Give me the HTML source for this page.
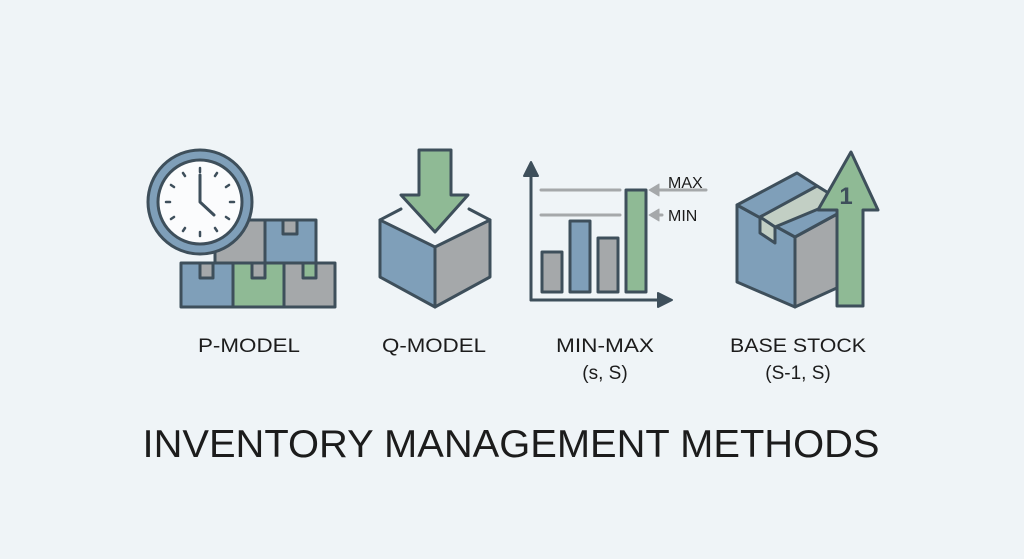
<!DOCTYPE html>
<html><head><meta charset="utf-8"><style>
html,body{margin:0;padding:0;background:#eff4f7;}
svg{display:block}
text{font-family:"Liberation Sans",sans-serif;fill:#1c1c1c}
</style></head><body>
<svg width="1024" height="559" viewBox="0 0 1024 559" xmlns="http://www.w3.org/2000/svg">
<rect width="1024" height="559" fill="#eff4f7"/>
<g stroke="#3e4f5b" stroke-width="3" stroke-linejoin="round" stroke-linecap="round">
<!-- P-model boxes -->
<rect x="215" y="220" width="50" height="43" fill="#a5a8aa"/>
<rect x="265" y="220" width="51" height="43" fill="#7f9fb9"/>
<rect x="283" y="220" width="14" height="14" fill="#a5a8aa"/>
<rect x="181" y="263" width="52" height="44" fill="#7f9fb9"/>
<rect x="233" y="263" width="51" height="44" fill="#8fba95"/>
<rect x="284" y="263" width="51" height="44" fill="#a5a8aa"/>
<rect x="200" y="263" width="13" height="15" fill="#a5a8aa"/>
<rect x="252" y="263" width="13" height="15" fill="#a5a8aa"/>
<rect x="303" y="263" width="13" height="15" fill="#8fba95"/>
<!-- clock -->
<circle cx="200" cy="202" r="52" fill="#7f9fb9"/>
<circle cx="200" cy="202" r="42" fill="#fbfcfd"/>
<g stroke-width="2.5">
<line x1="200" y1="168" x2="200" y2="172"/><line x1="200" y1="232" x2="200" y2="236"/>
<line x1="166" y1="202" x2="170" y2="202"/><line x1="230" y1="202" x2="234" y2="202"/>
<line x1="183" y1="173" x2="185" y2="176"/><line x1="217" y1="173" x2="215" y2="176"/>
<line x1="171" y1="185" x2="174" y2="187"/><line x1="229" y1="185" x2="226" y2="187"/>
<line x1="171" y1="219" x2="174" y2="217"/><line x1="229" y1="219" x2="226" y2="217"/>
<line x1="183" y1="231" x2="185" y2="228"/><line x1="217" y1="231" x2="215" y2="228"/>
</g>
<polyline points="200,175 200,202 214,215" fill="none"/>
<!-- Q-model -->
<polygon points="380,220 435,247 435,307 380,277" fill="#7f9fb9"/>
<polygon points="435,247 490,220 490,277 435,307" fill="#a5a8aa"/>
<line x1="380" y1="220" x2="401" y2="209"/>
<line x1="469" y1="209" x2="490" y2="220"/>
<polygon points="419,150 451,150 451,195 468,195 435,232 401,195 419,195" fill="#8fba95"/>
<!-- Min-max -->
<line x1="531" y1="170" x2="531" y2="300"/>
<line x1="531" y1="300" x2="664" y2="300"/>
<polygon points="524,176 538,176 531,162" fill="#3e4f5b" stroke-width="2"/>
<polygon points="658,293 658,307 672,300" fill="#3e4f5b" stroke-width="2"/>
<line x1="541" y1="190" x2="620" y2="190" stroke="#a5a8aa" stroke-width="3"/>
<line x1="541" y1="215" x2="620" y2="215" stroke="#a5a8aa" stroke-width="3"/>
<rect x="542" y="252" width="20" height="40" fill="#a5a8aa"/>
<rect x="570" y="221" width="20" height="71" fill="#7f9fb9"/>
<rect x="598" y="238" width="20" height="54" fill="#a5a8aa"/>
<rect x="626" y="190" width="20" height="102" fill="#8fba95"/>
<g stroke="#a5a8aa" fill="#a5a8aa">
<line x1="658" y1="190" x2="706" y2="190"/>
<polygon points="649,190 659,184 659,196" stroke-width="1"/>
<line x1="658" y1="215" x2="662" y2="215"/>
<polygon points="649,215 659,209 659,221" stroke-width="1"/>
</g>
<!-- Base stock -->
<polygon points="737,205 795,237 795,307 737,282" fill="#7f9fb9"/>
<polygon points="795,237 850,207 850,282 795,307" fill="#a5a8aa"/>
<polygon points="737,205 797,173 850,207 795,237" fill="#7f9fb9"/>
<polygon points="760,217 817,186 840,200 775,227" fill="#c2cfc4"/>
<polygon points="760,217 775,227 775,243 760,233" fill="#c2cfc4"/>
<polygon points="837,306 863,306 863,210 878,210 851,152 818,210 837,210" fill="#8fba95"/>
</g>
<text x="846" y="204" font-size="24" font-weight="bold" style="fill:#3e4f5b" text-anchor="middle">1</text>
<text x="668" y="188" font-size="16">MAX</text>
<text x="668" y="221" font-size="16">MIN</text>
<g font-size="19" text-anchor="middle">
<text x="249" y="352" textLength="102" lengthAdjust="spacingAndGlyphs">P-MODEL</text>
<text x="434" y="352" textLength="104" lengthAdjust="spacingAndGlyphs">Q-MODEL</text>
<text x="605" y="352" textLength="98" lengthAdjust="spacingAndGlyphs">MIN-MAX</text>
<text x="605" y="379">(s, S)</text>
<text x="798" y="352" textLength="136" lengthAdjust="spacingAndGlyphs">BASE STOCK</text>
<text x="798" y="379">(S-1, S)</text>
</g>
<text x="511" y="457" font-size="39" text-anchor="middle" textLength="737" lengthAdjust="spacingAndGlyphs">INVENTORY MANAGEMENT METHODS</text>
</svg>
</body></html>
